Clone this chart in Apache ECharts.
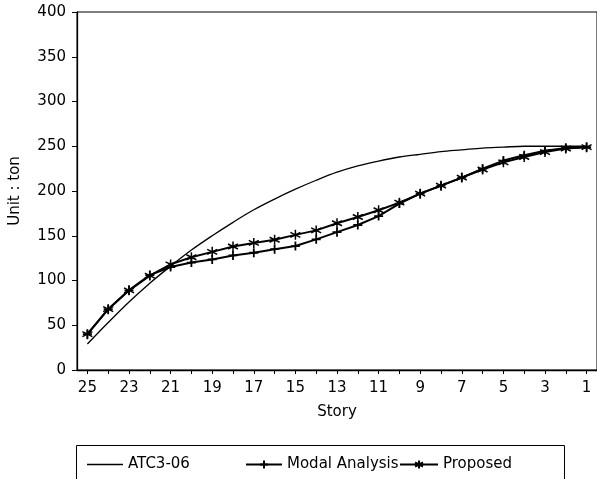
<!DOCTYPE html>
<html>
<head>
<meta charset="utf-8">
<script src="https://cdn.jsdelivr.net/npm/echarts@6/dist/echarts.min.js"></script>
<style>html,body{margin:0;padding:0;background:#fff}#c{width:597px;height:479px}</style>
</head>
<body>
<div id="c"></div>
<script>
var stories = ['25','24','23','22','21','20','19','18','17','16','15','14','13','12','11','10','9','8','7','6','5','4','3','2','1'];
var atc = [29, 53, 76, 97, 116, 134, 150, 165, 179, 191, 202, 212, 221, 228, 233.5, 238, 241, 244, 246, 248, 249, 250, 250, 250, 250];
var modal = [40, 68, 89, 106, 115, 120, 123.5, 128, 131, 135, 138.5, 146, 154, 162, 172, 186, 197, 206, 215, 225, 234, 240, 245, 248, 249];
var proposed = [40, 68, 89, 105.5, 118, 126, 132, 138, 142, 145.5, 151, 156, 164, 171, 178.5, 187, 197, 206, 215, 224, 232, 238, 243.5, 247.5, 249];
var yMin = 0, yMax = 400, yStep = 50;

var FONT = 'DejaVu Sans';
var plusPath = 'path://M5,0 L5,10 M0,5 L10,5';
var starPath = 'path://M5,0 L5,10 M0.7,2.5 L9.3,7.5 M9.3,2.5 L0.7,7.5';

var chart = echarts.init(document.getElementById('c'));
var legendText = {fontFamily: FONT, fontSize: 15, color: '#000'};
chart.setOption({
  animation: false,
  backgroundColor: '#fff',
  grid: {left: 74, right: -3, top: 12, bottom: 109, show: true, borderColor: '#000', borderWidth: 1},
  xAxis: {
    type: 'category', data: stories, boundaryGap: true,
    name: 'Story', nameLocation: 'middle', nameGap: 35,
    nameTextStyle: {fontFamily: FONT, fontSize: 15, color: '#000'},
    axisLine: {lineStyle: {color: '#000', width: 1.3}},
    axisTick: {show: true, interval: 0, alignWithLabel: true, length: 4, lineStyle: {color: '#000'}},
    axisLabel: {interval: 1, margin: 11, fontFamily: FONT, fontSize: 15, color: '#000'},
    splitLine: {show: false}
  },
  yAxis: {
    type: 'value', min: yMin, max: yMax, interval: yStep,
    name: 'Unit : ton', nameLocation: 'middle', nameGap: 54, nameRotate: 90,
    nameTextStyle: {fontFamily: FONT, fontSize: 15, color: '#000'},
    axisLine: {show: true, lineStyle: {color: '#000', width: 1.3}},
    axisTick: {show: true, length: 5, lineStyle: {color: '#000'}},
    axisLabel: {margin: 11, fontFamily: FONT, fontSize: 15, color: '#000'},
    splitLine: {show: false}
  },
  legend: [
    {data: ['ATC3-06'], left: 82, top: 452, icon: 'rect', itemWidth: 36, itemHeight: 1.3, itemGap: 5, textStyle: legendText},
    {data: ['Modal Analysis'], left: 240, top: 452, itemWidth: 36, itemHeight: 10, itemGap: 5, textStyle: legendText},
    {data: ['Proposed'], left: 394, top: 452, itemWidth: 38, itemHeight: 10, itemGap: 5, textStyle: legendText}
  ],
  graphic: [{type: 'rect', left: 74, top: 443, shape: {width: 488, height: 35}, style: {fill: 'none', stroke: '#000', lineWidth: 1}}],
  series: [
    {name: 'ATC3-06', type: 'line', data: atc, smooth: 0.35, symbol: 'none',
     lineStyle: {color: '#000', width: 1.3}, itemStyle: {color: '#000'}},
    {name: 'Modal Analysis', type: 'line', data: modal, symbol: plusPath, symbolSize: 9,
     lineStyle: {color: '#000', width: 2}, itemStyle: {color: '#000', borderColor: '#000', borderWidth: 1.8}},
    {name: 'Proposed', type: 'line', data: proposed, symbol: starPath, symbolSize: 10,
     lineStyle: {color: '#000', width: 2}, itemStyle: {color: '#000', borderColor: '#000', borderWidth: 1.5}}
  ]
});
</script>
</body>
</html>
